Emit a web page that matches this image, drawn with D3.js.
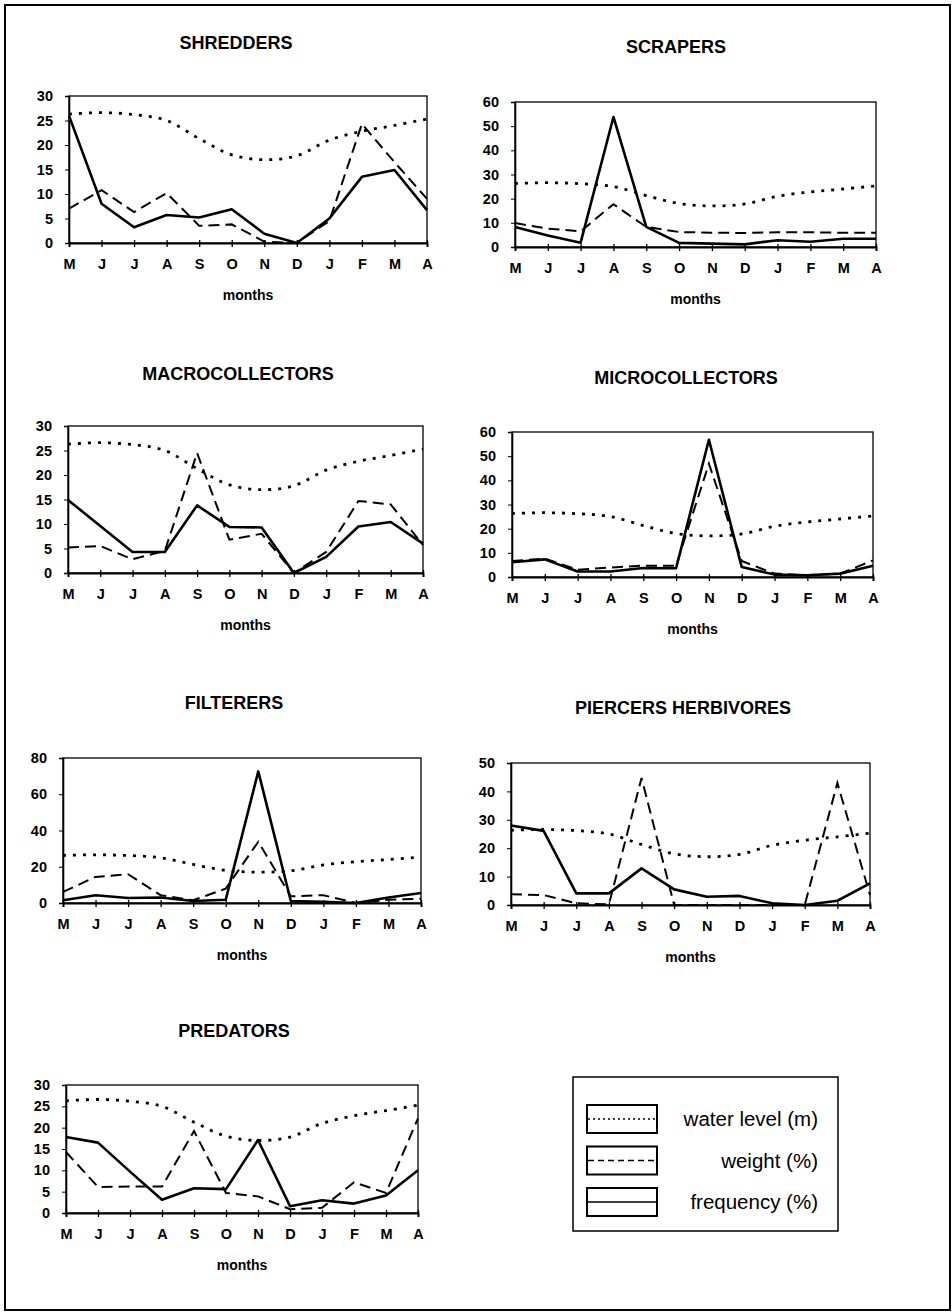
<!DOCTYPE html>
<html>
<head>
<meta charset="utf-8">
<script src="https://cdn.jsdelivr.net/npm/d3@7"></script>
<style>
  body { margin: 0; background: #fff; }
  text { font-family: "Liberation Sans", Arial, sans-serif; fill: #000; }
</style>
</head>
<body>
<div id="chart"></div>
<script>
// month labels (May to April)
var months = ["M", "J", "J", "A", "S", "O", "N", "D", "J", "F", "M", "A"];

// water level (m), same in every panel
var waterLevel = [26.3, 26.6, 26.2, 25.0, 21.3, 18.0, 17.0, 17.8, 21.0, 22.8, 24.0, 25.3];

var shreddersFreq   = [26.0, 8.0, 3.2, 5.7, 5.2, 6.9, 1.9, 0, 5.0, 13.5, 14.9, 6.7];
var shreddersWeight = [7.0, 10.8, 6.3, 10.2, 3.5, 3.8, 0.3, 0, 4.5, 24.3, 16.5, 9.0];

var scrapersFreq   = [8.3, 4.8, 1.8, 53.8, 8.3, 1.7, 1.4, 1.1, 2.8, 2.2, 3.4, 3.4];
var scrapersWeight = [9.9, 7.6, 6.5, 17.7, 8.3, 6.2, 5.9, 5.8, 6.1, 6.1, 5.9, 5.9];

var macroFreq   = [14.9, 9.6, 4.3, 4.3, 13.8, 9.4, 9.3, 0, 3.3, 9.5, 10.4, 6.0];
var macroWeight = [5.2, 5.5, 2.8, 4.5, 24.5, 6.8, 8.0, 0, 4.3, 14.7, 14.0, 5.7];

var microFreq   = [6.1, 7.3, 2.3, 2.3, 3.7, 3.6, 56.8, 4.1, 1.0, 0.7, 1.4, 4.7];
var microWeight = [6.6, 7.6, 3.0, 3.9, 4.7, 4.7, 46.9, 6.6, 1.4, 0.7, 1.4, 6.9];

var filterersFreq   = [1.5, 4.3, 2.8, 3.0, 1.1, 1.8, 72.6, 1.1, 0.6, 0, 3.0, 5.5];
var filterersWeight = [6.1, 14.4, 15.9, 4.3, 1.5, 7.9, 33.8, 3.7, 4.3, 0, 1.8, 2.4];

var piercersFreq   = [28.0, 26.1, 4.1, 4.1, 12.9, 5.5, 2.9, 3.2, 0.6, 0, 1.5, 7.6];
var piercersWeight = [3.8, 3.5, 0.6, 0.2, 44.7, 0, 0, 0, 0, 0, 43.0, 3.5];

var predatorsFreq   = [17.8, 16.5, 9.7, 3.1, 5.8, 5.6, 17.1, 1.6, 3.0, 2.2, 4.1, 10.0];
var predatorsWeight = [14.3, 6.1, 6.2, 6.2, 19.2, 4.7, 3.9, 0.9, 1.2, 7.2, 4.7, 22.2];

var legendLabels = ["water level (m)", "weight (%)", "frequency (%)"];

// layout of each panel (plot box in page pixels)
var panels = [
  { title: "SHREDDERS", yMax: 30, step: 5, freq: shreddersFreq, weight: shreddersWeight,
    left: 69, top: 96, right: 427, bottom: 243, titleX: 236, titleY: 49 },
  { title: "SCRAPERS", yMax: 60, step: 10, freq: scrapersFreq, weight: scrapersWeight,
    left: 515, top: 102, right: 876, bottom: 247, titleX: 676, titleY: 53 },
  { title: "MACROCOLLECTORS", yMax: 30, step: 5, freq: macroFreq, weight: macroWeight,
    left: 68, top: 426, right: 423, bottom: 573, titleX: 238, titleY: 380 },
  { title: "MICROCOLLECTORS", yMax: 60, step: 10, freq: microFreq, weight: microWeight,
    left: 512, top: 432, right: 873, bottom: 577, titleX: 686, titleY: 384 },
  { title: "FILTERERS", yMax: 80, step: 20, freq: filterersFreq, weight: filterersWeight,
    left: 63, top: 758, right: 421, bottom: 903, titleX: 234, titleY: 709 },
  { title: "PIERCERS HERBIVORES", yMax: 50, step: 10, freq: piercersFreq, weight: piercersWeight,
    left: 511, top: 763, right: 870, bottom: 905, titleX: 683, titleY: 714 },
  { title: "PREDATORS", yMax: 30, step: 5, freq: predatorsFreq, weight: predatorsWeight,
    left: 66, top: 1085, right: 418, bottom: 1213, titleX: 234, titleY: 1037 }
];

var svg = d3.select("#chart").append("svg")
    .attr("width", 952)
    .attr("height", 1314);

// outer frame
svg.append("rect")
    .attr("x", 5).attr("y", 5)
    .attr("width", 945).attr("height", 1305)
    .attr("fill", "none")
    .attr("stroke", "#000")
    .attr("stroke-width", 2);

var styles = {
  water:  { width: 2.8, dash: "3,7" },
  weight: { width: 2, dash: "11,6" },
  freq:   { width: 2.6, dash: null }
};

function drawPanel(p) {
  var g = svg.append("g")
      .attr("transform", "translate(" + p.left + "," + p.top + ")");
  var w = p.right - p.left,
      h = p.bottom - p.top;

  var x = d3.scalePoint().domain(d3.range(months.length)).range([0, w]);
  var y = d3.scaleLinear().domain([0, p.yMax]).range([h, 0]);

  svg.append("text")
      .attr("x", p.titleX)
      .attr("y", p.titleY)
      .attr("text-anchor", "middle")
      .style("font-size", "18px")
      .style("font-weight", "bold")
      .text(p.title);

  // box
  g.append("rect")
      .attr("width", w).attr("height", h)
      .attr("fill", "none")
      .attr("stroke", "#000")
      .attr("stroke-width", 1.3);

  var yAxis = g.append("g")
      .call(d3.axisLeft(y).tickValues(d3.range(0, p.yMax + 1, p.step)).tickSize(4).tickPadding(12));
  yAxis.select(".domain").attr("stroke-width", 1.6);
  yAxis.selectAll("text")
      .style("font-size", "14.5px")
      .style("font-weight", "bold")
      .style("font-family", "'Liberation Sans', Arial, sans-serif");

  var xAxis = g.append("g")
      .attr("transform", "translate(0," + h + ")")
      .call(d3.axisBottom(x).tickSize(4).tickPadding(12).tickFormat(function(i) { return months[i]; }));
  xAxis.select(".domain").attr("stroke-width", 1.8);
  xAxis.selectAll(".tick line").attr("y1", -3).attr("stroke-width", 1.3);
  xAxis.selectAll("text")
      .style("font-size", "14.5px")
      .style("font-weight", "bold")
      .style("font-family", "'Liberation Sans', Arial, sans-serif");

  g.append("text")
      .attr("x", w / 2)
      .attr("y", h + 57)
      .attr("text-anchor", "middle")
      .style("font-size", "14px")
      .style("font-weight", "bold")
      .text("months");

  var straight = d3.line()
      .x(function(d, i) { return x(i); })
      .y(function(d) { return y(d); });
  var smooth = d3.line()
      .curve(d3.curveCatmullRom)
      .x(function(d, i) { return x(i); })
      .y(function(d) { return y(d); });

  g.append("path")
      .datum(waterLevel)
      .attr("fill", "none")
      .attr("stroke", "#000")
      .attr("stroke-width", styles.water.width)
      .attr("stroke-dasharray", styles.water.dash)
      .attr("d", smooth);

  g.append("path")
      .datum(p.weight)
      .attr("fill", "none")
      .attr("stroke", "#000")
      .attr("stroke-width", styles.weight.width)
      .attr("stroke-dasharray", styles.weight.dash)
      .attr("d", straight);

  g.append("path")
      .datum(p.freq)
      .attr("fill", "none")
      .attr("stroke", "#000")
      .attr("stroke-width", styles.freq.width)
      .attr("stroke-linejoin", "round")
      .attr("d", straight);
}

panels.forEach(drawPanel);

// legend
var legend = svg.append("g");
legend.append("rect")
    .attr("x", 573).attr("y", 1077)
    .attr("width", 265).attr("height", 154)
    .attr("fill", "none")
    .attr("stroke", "#000")
    .attr("stroke-width", 1.5);

var legendDash = ["2,3", "6,4", null];
var rowY = d3.scalePoint().domain(d3.range(legendLabels.length)).range([1119, 1202]);

var item = legend.selectAll(".legend-item")
    .data(legendLabels)
    .enter().append("g")
    .attr("class", "legend-item")
    .attr("transform", function(d, i) { return "translate(0," + rowY(i) + ")"; });

item.append("rect")
    .attr("x", 587).attr("y", -14)
    .attr("width", 70).attr("height", 28)
    .attr("fill", "none")
    .attr("stroke", "#000")
    .attr("stroke-width", 2);

item.append("line")
    .attr("x1", 588).attr("x2", 656)
    .attr("stroke", "#000")
    .attr("stroke-width", function(d, i) { return i === 2 ? 1.5 : 1.3; })
    .attr("stroke-dasharray", function(d, i) { return legendDash[i]; });

item.append("text")
    .attr("x", 818)
    .attr("y", 7)
    .attr("text-anchor", "end")
    .style("font-size", "20.5px")
    .text(function(d) { return d; });
</script>
</body>
</html>
